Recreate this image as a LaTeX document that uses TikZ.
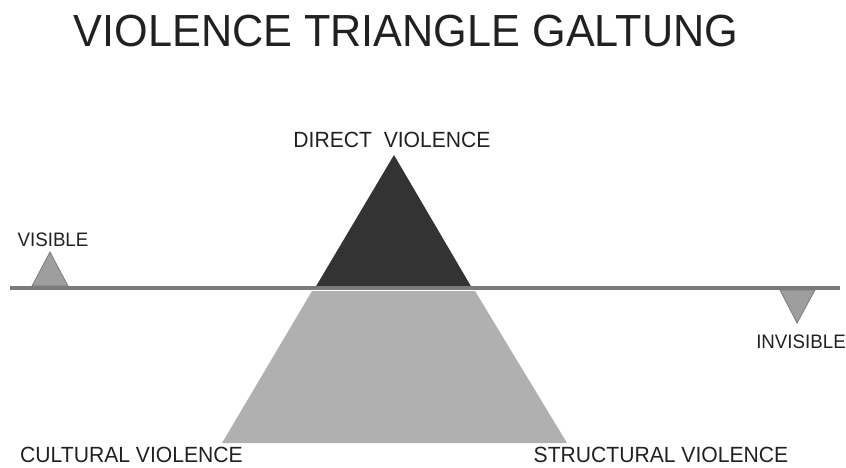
\documentclass[tikz,border=0pt]{standalone}
\usepackage{fontspec}
\setmainfont{Liberation Sans}
\newfontfamily\labelfont[FakeStretch=0.96]{Liberation Sans}
\usetikzlibrary{positioning}
\definecolor{mdark}{rgb}{0.2, 0.2, 0.2}
\definecolor{mlight}{rgb}{0.69, 0.69, 0.69}
\definecolor{mline}{rgb}{0.48, 0.48, 0.48}
\definecolor{mtext}{rgb}{0.13, 0.13, 0.13}
\tikzset{lbl/.style = {inner sep = 0, text = mtext, font = \labelfont\fontsize{22}{26}\selectfont}}
\tikzset{smalllbl/.style = {inner sep = 0, text = mtext, font = \labelfont\fontsize{19.5}{23}\selectfont}}
\tikzset{marker/.style = {fill = mlight!90!black, draw = mlight!70!black, line width = 0.8}}

\begin{document}
\begin{tikzpicture}[x = 1pt, y = -1pt]
    \useasboundingbox (0, 0) rectangle (846, 467);
    \node [inner sep = 0, text = mtext, font = \labelfont\fontsize{45}{50}\selectfont] (title) at (406, 31) {VIOLENCE TRIANGLE GALTUNG};

    % the horizon
    \coordinate (lineL) at (10, 288);
    \coordinate (lineR) at (840, 288);

    % hidden part and visible top
    \fill [mlight] (312, 291) -- (475, 291) -- (567, 443) -- (222, 443) -- cycle;
    \fill [mdark] (394, 155) -- (472, 288) -- (315, 288) -- cycle;
    \draw [mline, line width = 4.5] (lineL) -- (lineR);

    % small markers
    \draw [marker] (50, 252) -- (68, 286) -- (32, 286) -- cycle;
    \draw [marker] (780, 290) -- (815, 290) -- (797, 323) -- cycle;

    \node [lbl] (direct) at (392, 140) {DIRECT\ \ VIOLENCE};
    \node [smalllbl] (visible) at (53, 240) {VISIBLE};
    \node [smalllbl] (invisible) at (801, 341.5) {INVISIBLE};
    \node [lbl] (cultural) at (131.5, 455) {CULTURAL VIOLENCE};
    \node [lbl] (structural) at (661, 455) {STRUCTURAL VIOLENCE};
  \end{tikzpicture}
\end{document}
